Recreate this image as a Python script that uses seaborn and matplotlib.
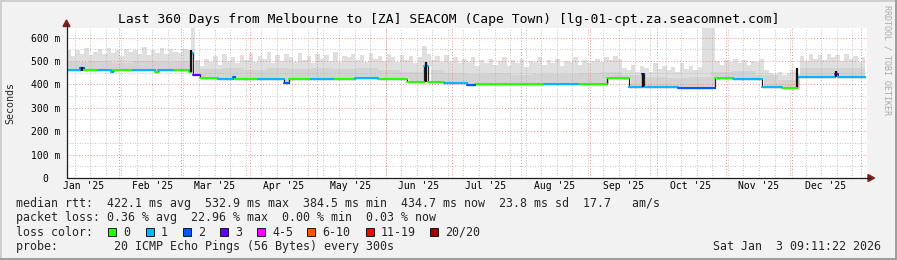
import numpy as np
import pandas as pd
import matplotlib
matplotlib.use("Agg")
import matplotlib.pyplot as plt
from matplotlib.patches import Rectangle, Polygon
import seaborn as sns

W, H = 897, 260

# ------------------------------------------------------------------ data
start = pd.Timestamp("2025-01-08 09:11:22")
span_days = 360

month_labels = ["Jan '25", "Feb '25", "Mar '25", "Apr '25", "May '25", "Jun '25",
                "Jul '25", "Aug '25", "Sep '25", "Oct '25", "Nov '25", "Dec '25"]
label_dates = ["2025-01-16", "2025-02-16", "2025-03-16", "2025-04-16", "2025-05-16",
               "2025-06-16", "2025-07-16", "2025-08-16", "2025-09-16", "2025-10-16",
               "2025-11-16", "2025-12-16"]
ytick_vals = [0, 100, 200, 300, 400, 500, 600]
ytick_labels = ["0", "100 m", "200 m", "300 m", "400 m", "500 m", "600 m"]

# median rtt: piecewise constant segments (day boundaries), ms, loss count
med_edges = [0, 6, 8, 14, 20, 21, 30, 40, 41, 48,
             55, 56, 57, 60, 68, 75, 76, 86, 98, 100,
             110, 120, 130, 140, 153, 161, 162.5, 170, 180, 184,
             200, 215, 230, 243, 253, 259, 260, 275, 292, 300,
             313, 322, 328.5, 346, 347, 359.5]
med_vals = [460, 470, 460, 461, 452, 460, 460, 455, 461, 460,
            452, 533, 440, 426, 424, 432, 423, 421, 408, 422,
            424, 423, 426, 424, 412, 480, 411, 408, 396, 401,
            400, 400, 401, 428, 390, 445, 389, 386, 426, 425,
            389, 386, 432, 445, 433]
med_loss = [1, 2, 0, 1, 1, 0, 1, 0, 1, 0,
            0, 1, 3, 0, 1, 2, 0, 1, 2, 0,
            1, 0, 1, 0, 0, 1, 0, 1, 2, 0,
            0, 1, 0, 0, 1, 3, 1, 2, 0, 1,
            1, 0, 1, 3, 1]

# smoke upper envelope, one value per 2 days
smoke_top = [545, 520, 548, 530, 555, 525, 540, 550, 528, 556,
             535, 545, 520, 552, 538, 548, 530, 560, 525, 545,
             535, 555, 528, 550, 540, 535, 550, 545, 645, 505,
             480, 510, 495, 520, 485, 530, 500, 515, 490, 525,
             505, 535, 495, 520, 510, 540, 490, 525, 500, 530,
             515, 495, 535, 505, 520, 490, 530, 510, 525, 500,
             540, 495, 520, 515, 530, 505, 525, 495, 535, 510,
             520, 500, 530, 515, 495, 525, 505, 520, 490, 515,
             566, 530, 505, 520, 495, 525, 500, 515, 490, 510,
             495, 515, 480, 505, 490, 510, 485, 500, 515, 480,
             505, 490, 510, 475, 500, 495, 515, 485, 505, 490,
             510, 480, 500, 495, 515, 485, 505, 490, 500, 510,
             495, 515, 505, 520, 510, 470, 460, 485, 455, 480,
             470, 455, 490, 465, 480, 460, 475, 455, 490, 465,
             480, 460, 475, 660, 660, 660, 500, 485, 505, 495,
             510, 490, 505, 485, 500, 495, 510, 460, 450, 445,
             455, 440, 450, 460, 445, 520, 500, 530, 510, 525,
             505, 530, 515, 525, 500, 530, 510, 520, 495, 515]
# denser smoke band, one value per 10 days
smoke_mid = [495, 500, 492, 498, 495, 500, 465, 470, 462, 468,
             465, 470, 466, 468, 462, 455, 460, 450, 445, 448,
             442, 446, 444, 447, 455, 440, 430, 428, 432, 455,
             458, 440, 420, 470, 468, 472]

# dark spikes (dense smoke at median jumps)
spike_day = [6.8, 56.2, 161.7, 259.3, 328.6, 346.4]
spike_lo = [458, 452, 410, 390, 388, 432]
spike_hi = [474, 548, 497, 447, 470, 456]

loss_colors = {0: "#26ff00", 1: "#00b8ff", 2: "#0059ff", 3: "#5e00ff"}
legend_items = [("0", "#26ff00"), ("1", "#00b8ff"), ("2", "#0059ff"), ("3", "#5e00ff"),
                ("4-5", "#ff00ff"), ("6-10", "#ff5500"), ("11-19", "#ff0000"),
                ("20/20", "#a00000")]

# ------------------------------------------------------------------ style
sns.set_theme(style="white")
plt.rcParams["font.family"] = ["DejaVu Sans Mono", "DejaVu Sans"]

fig = plt.figure(figsize=(W / 100, H / 100), dpi=100, facecolor="#f2f2f2")


def fx(x):
    return x / W


def fy(y):
    return 1 - y / H


L, R, T, B = 66.5, 866.5, 28, 178
ax = fig.add_axes([fx(L), fy(B), (R - L) / W, (B - T) / H])
ax.set_facecolor("white")
ax.set_xlim(0, span_days)
ax.set_ylim(0, 641)

# ------------------------------------------------------------------ smoke
edges = np.array(med_edges)
vals = np.array(med_vals, dtype=float)
sd = np.arange(0, 360, 2, dtype=float)
idx = np.clip(np.searchsorted(edges, sd, side="right") - 1, 0, len(vals) - 1)
base = vals[idx]
top = np.array(smoke_top, dtype=float)
mid = np.array(smoke_mid, dtype=float)[(sd // 10).astype(int)]
mid = np.maximum(base, np.minimum(mid, top))
xs = np.append(sd, 359.5)
ax.fill_between(xs, np.append(base, base[-1]), np.append(top, top[-1]),
                step="post", color="#dfdfdf", lw=0, zorder=1)
ax.fill_between(xs, np.append(base, base[-1]), np.append(mid, mid[-1]),
                step="post", color="#d3d3d3", lw=0, zorder=1.1)

# ------------------------------------------------------------------ grid
week_days = (pd.date_range("2025-01-12", "2026-01-03", freq="7D") - start) / pd.Timedelta(days=1)
month_days = (pd.date_range("2025-02-01", "2026-01-01", freq="MS") - start) / pd.Timedelta(days=1)
dot = (0, (1, 2))
ax.vlines(week_days, 0, 641, colors="#b4b4b4", lw=0.6, linestyles=dot, zorder=2)
ax.hlines(np.arange(50, 641, 100), 0, span_days, colors="#b4b4b4", lw=0.6, linestyles=dot, zorder=2)
ax.vlines(month_days, 0, 641, colors="#e88e8e", lw=0.7, linestyles=dot, zorder=2.1)
ax.hlines(ytick_vals[1:], 0, span_days, colors="#e88e8e", lw=0.7, linestyles=dot, zorder=2.1)

# ------------------------------------------------------------------ median line
px_, py_ = [], []
for i, v in enumerate(med_vals):
    px_ += [med_edges[i], med_edges[i + 1]]
    py_ += [v, v]
ax.plot(px_, py_, color="#222222", lw=0.9, zorder=3)

rows = []
for i, v in enumerate(med_vals):
    rows.append({"day": med_edges[i], "rtt": v, "loss": med_loss[i], "seg": i})
    rows.append({"day": med_edges[i + 1], "rtt": v, "loss": med_loss[i], "seg": i})
df = pd.DataFrame(rows)
sns.lineplot(data=df, x="day", y="rtt", hue="loss", units="seg", estimator=None,
             palette=loss_colors, linewidth=1.5, legend=False, sort=False, ax=ax, zorder=4)

ax.vlines(spike_day, spike_lo, spike_hi, colors="#111111", lw=1.6, zorder=4.5)

# ------------------------------------------------------------------ axes / ticks
label_days = (pd.to_datetime(label_dates) - start) / pd.Timedelta(days=1)
ax.set_xticks(label_days)
ax.set_xticklabels(month_labels, fontsize=7, color="black")
ax.set_yticks(ytick_vals)
ax.set_yticklabels(ytick_labels, fontsize=7, color="black")
for lab in ax.get_yticklabels():
    lab.set_horizontalalignment("center")
ax.tick_params(axis="x", length=0, pad=2.5)
ax.tick_params(axis="y", length=0, pad=15.3)
ax.set_xlabel("")
ax.set_ylabel("")
for s in ax.spines.values():
    s.set_visible(False)

axis_col = "#1f1f1f"
arrow_col = "#7f1f1f"
fig.add_artist(plt.Line2D([fx(L), fx(L)], [fy(B), fy(24)], color=axis_col, lw=0.9))
fig.add_artist(plt.Line2D([fx(L), fx(870)], [fy(B), fy(B)], color=axis_col, lw=0.9))
fig.add_artist(Polygon([(fx(63), fy(26.5)), (fx(70), fy(26.5)), (fx(66.5), fy(20))],
                       closed=True, transform=fig.transFigure, color=arrow_col))
fig.add_artist(Polygon([(fx(868), fy(174.5)), (fx(868), fy(181.5)), (fx(874.5), fy(178))],
                       closed=True, transform=fig.transFigure, color=arrow_col))

# ------------------------------------------------------------------ texts
fig.text(fx(448.5), fy(19), "Last 360 Days from Melbourne to [ZA] SEACOM (Cape Town) [lg-01-cpt.za.seacomnet.com]",
         ha="center", va="center", fontsize=9.4, color="black")
fig.text(fx(10), fy(103), "Seconds", rotation=90, ha="center", va="center", fontsize=7.2)
fig.text(fx(887), fy(60), "RRDTOOL / TOBI OETIKER", rotation=270, ha="center", va="center",
         fontsize=6, color="#aaaaaa")

fs = 8.4
fig.text(fx(16), fy(204), "median rtt:  422.1 ms avg  532.9 ms max  384.5 ms min  434.7 ms now  23.8 ms sd  17.7   am/s",
         ha="left", va="center", fontsize=fs)
fig.text(fx(16), fy(218), "packet loss: 0.36 % avg  22.96 % max  0.00 % min  0.03 % now",
         ha="left", va="center", fontsize=fs)
fig.text(fx(16), fy(232), "loss color:", ha="left", va="center", fontsize=fs)
sq_x = [108, 146, 183, 220, 257, 307, 366, 430]
for (lab, col), x0 in zip(legend_items, sq_x):
    fig.add_artist(Rectangle((fx(x0), fy(235.5)), 7.5 / W, 7.5 / H, transform=fig.transFigure,
                             facecolor=col, edgecolor="black", lw=0.6))
    fig.text(fx(x0 + 15), fy(232), lab, ha="left", va="center", fontsize=fs)
fig.text(fx(16), fy(246.5), "probe:        20 ICMP Echo Pings (56 Bytes) every 300s",
         ha="left", va="center", fontsize=fs)
fig.text(fx(881), fy(246.5), "Sat Jan  3 09:11:22 2026", ha="right", va="center", fontsize=fs)

# frame
fig.add_artist(Rectangle((0, fy(2)), 1, 2 / H, transform=fig.transFigure, color="#cfcfcf", lw=0))
fig.add_artist(Rectangle((0, 0), 2 / W, 1, transform=fig.transFigure, color="#cfcfcf", lw=0))
fig.add_artist(Rectangle((0, 0), 1, 2.5 / H, transform=fig.transFigure, color="#9e9e9e", lw=0))
fig.add_artist(Rectangle((fx(894.5), 0), 2.5 / W, 1, transform=fig.transFigure, color="#9e9e9e", lw=0))

fig.savefig("out.png", dpi=100, facecolor=fig.get_facecolor())
